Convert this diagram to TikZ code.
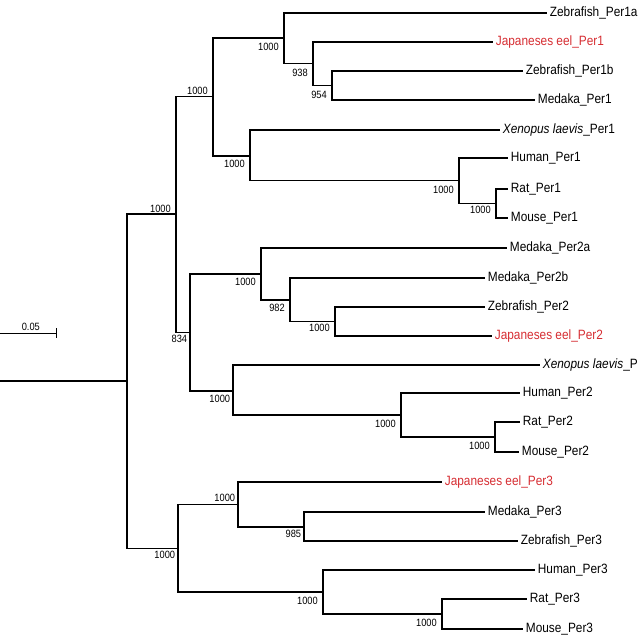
\documentclass[tikz,border=0pt]{standalone}
\usepackage{fontspec}
\setmainfont{Liberation Sans}[FakeStretch=0.88]
\usepackage{tikz}
\usetikzlibrary{positioning,calc}
\definecolor{eelred}{RGB}{214,45,50}

\begin{document}
\begin{tikzpicture}[
    x=0.3mm, y=-0.3mm,
    line width=0.9pt,
    leaf/.style={anchor=west, inner sep=2pt, font=\fontsize{11.5}{13}\selectfont},
    eel/.style={leaf, text=eelred},
    boot/.style={inner sep=1pt, font=\fontsize{9}{10}\selectfont}
]

    \useasboundingbox (0,0) rectangle (637,644);
    \clip (0,0) rectangle (637,644);

    % inner nodes of the tree
    \coordinate (root)   at (127, 381);
    \coordinate (P12)    at (176, 214);
    \coordinate (P1)     at (213, 96.5);
    \coordinate (P1fish) at (284, 38);
    \coordinate (P1a)    at (313, 63.5);
    \coordinate (P1b)    at (332, 85.5);
    \coordinate (P1tet)  at (250, 156);
    \coordinate (P1mam)  at (459, 180.5);
    \coordinate (P1rm)   at (496, 203.5);
    \coordinate (P2)     at (190, 332.5);
    \coordinate (P2fish) at (261, 274);
    \coordinate (P2a)    at (290, 300);
    \coordinate (P2ze)   at (335, 321.5);
    \coordinate (P2tet)  at (233, 391);
    \coordinate (P2mam)  at (401, 415);
    \coordinate (P2rm)   at (495, 437);
    \coordinate (P3)     at (178, 548.5);
    \coordinate (P3fish) at (238, 504.5);
    \coordinate (P3mz)   at (304, 527);
    \coordinate (P3mam)  at (323, 592);
    \coordinate (P3rm)   at (442, 614);

    \coordinate (stem) at (0, 381);

    % leaves
    \node[leaf] (zPer1a) at (547, 13)  {Zebrafish\_Per1a};
    \node[eel]  (ePer1)  at (493, 42)  {Japaneses eel\_Per1};
    \node[leaf] (zPer1b) at (523, 71)  {Zebrafish\_Per1b};
    \node[leaf] (mPer1)  at (535, 100) {Medaka\_Per1};
    \node[leaf] (xPer1)  at (500, 130) {\textit{Xenopus laevis}\_Per1};
    \node[leaf] (hPer1)  at (508, 158) {Human\_Per1};
    \node[leaf] (rPer1)  at (508, 189) {Rat\_Per1};
    \node[leaf] (moPer1) at (508, 218) {Mouse\_Per1};

    \node[leaf] (mPer2a) at (507, 248) {Medaka\_Per2a};
    \node[leaf] (mPer2b) at (485, 278) {Medaka\_Per2b};
    \node[leaf] (zPer2)  at (485, 307) {Zebrafish\_Per2};
    \node[eel]  (ePer2)  at (492, 336) {Japaneses eel\_Per2};
    \node[leaf] (xPer2)  at (540, 365) {\textit{Xenopus laevis}\_Per2};
    \node[leaf] (hPer2)  at (520, 393) {Human\_Per2};
    \node[leaf] (rPer2)  at (520, 422) {Rat\_Per2};
    \node[leaf] (moPer2) at (519, 452) {Mouse\_Per2};

    \node[eel]  (ePer3)  at (442, 482) {Japaneses eel\_Per3};
    \node[leaf] (mPer3)  at (485, 512) {Medaka\_Per3};
    \node[leaf] (zPer3)  at (518, 541) {Zebrafish\_Per3};
    \node[leaf] (hPer3)  at (535, 570) {Human\_Per3};
    \node[leaf] (rPer3)  at (527, 599) {Rat\_Per3};
    \node[leaf] (moPer3) at (523, 629) {Mouse\_Per3};

    % branches
    \draw (stem) -- (root);
    \draw (root) |- (P12);
    \draw (root) |- (P3);

    \draw (P12) |- (P1);
    \draw (P12) |- (P2);

    \draw (P1) |- (P1fish);
    \draw (P1) |- (P1tet);
    \draw (P1fish) |- (zPer1a.west);
    \draw (P1fish) |- (P1a);
    \draw (P1a) |- (ePer1.west);
    \draw (P1a) |- (P1b);
    \draw (P1b) |- (zPer1b.west);
    \draw (P1b) |- (mPer1.west);
    \draw (P1tet) |- (xPer1.west);
    \draw (P1tet) |- (P1mam);
    \draw (P1mam) |- (hPer1.west);
    \draw (P1mam) |- (P1rm);
    \draw (P1rm) |- (rPer1.west);
    \draw (P1rm) |- (moPer1.west);

    \draw (P2) |- (P2fish);
    \draw (P2) |- (P2tet);
    \draw (P2fish) |- (mPer2a.west);
    \draw (P2fish) |- (P2a);
    \draw (P2a) |- (mPer2b.west);
    \draw (P2a) |- (P2ze);
    \draw (P2ze) |- (zPer2.west);
    \draw (P2ze) |- (ePer2.west);
    \draw (P2tet) |- (xPer2.west);
    \draw (P2tet) |- (P2mam);
    \draw (P2mam) |- (hPer2.west);
    \draw (P2mam) |- (P2rm);
    \draw (P2rm) |- (rPer2.west);
    \draw (P2rm) |- (moPer2.west);

    \draw (P3) |- (P3fish);
    \draw (P3) |- (P3mam);
    \draw (P3fish) |- (ePer3.west);
    \draw (P3fish) |- (P3mz);
    \draw (P3mz) |- (mPer3.west);
    \draw (P3mz) |- (zPer3.west);
    \draw (P3mam) |- (hPer3.west);
    \draw (P3mam) |- (P3rm);
    \draw (P3rm) |- (rPer3.west);
    \draw (P3rm) |- (moPer3.west);

    % bootstrap values
    \node[boot, above left=0pt and 3pt of P12]   (bP12)    {1000};
    \node[boot, above left=0pt and 3pt of P1]    (bP1)     {1000};
    \node[boot, below left=3pt and 3pt of P1fish] (bP1fish) {1000};
    \node[boot, below left=3pt and 3pt of P1a]   (bP1a)    {938};
    \node[boot, below left=3pt and 3pt of P1b]   (bP1b)    {954};
    \node[boot, below left=2pt and 3pt of P1tet] (bP1tet)  {1000};
    \node[boot, below left=3pt and 3pt of P1mam] (bP1mam)  {1000};
    \node[boot, below left=1pt and 3pt of P1rm]  (bP1rm)   {1000};
    \node[boot, below left=1pt and 1pt of P2]    (bP2)     {834};
    \node[boot, below left=2pt and 3pt of P2fish] (bP2fish) {1000};
    \node[boot, below left=2pt and 3pt of P2a]   (bP2a)    {982};
    \node[boot, below left=1pt and 3pt of P2ze]  (bP2ze)   {1000};
    \node[boot, below left=2pt and 1pt of P2tet] (bP2tet)  {1000};
    \node[boot, below left=3pt and 3pt of P2mam] (bP2mam)  {1000};
    \node[boot, below left=3pt and 3pt of P2rm]  (bP2rm)   {1000};
    \node[boot, below left=1pt and 1pt of P3]    (bP3)     {1000};
    \node[boot, above left=1pt and 1pt of P3fish] (bP3fish) {1000};
    \node[boot, below left=1pt and 1pt of P3mz]  (bP3mz)   {985};
    \node[boot, below left=3pt and 3pt of P3mam] (bP3mam)  {1000};
    \node[boot, below left=3pt and 3pt of P3rm]  (bP3rm)   {1000};

    % scale bar
    \coordinate (barL) at (0, 333);
    \coordinate (barR) at (56, 333);
    \draw[line width=0.6pt] (barL) -- (barR);
    \draw[line width=0.6pt] ($(barR) + (0,-5)$) -- ($(barR) + (0,5)$);
    \node[boot, above=1pt] at ($(barL)!0.55!(barR)$) (barlabel) {0.05};

\end{tikzpicture}
\end{document}
